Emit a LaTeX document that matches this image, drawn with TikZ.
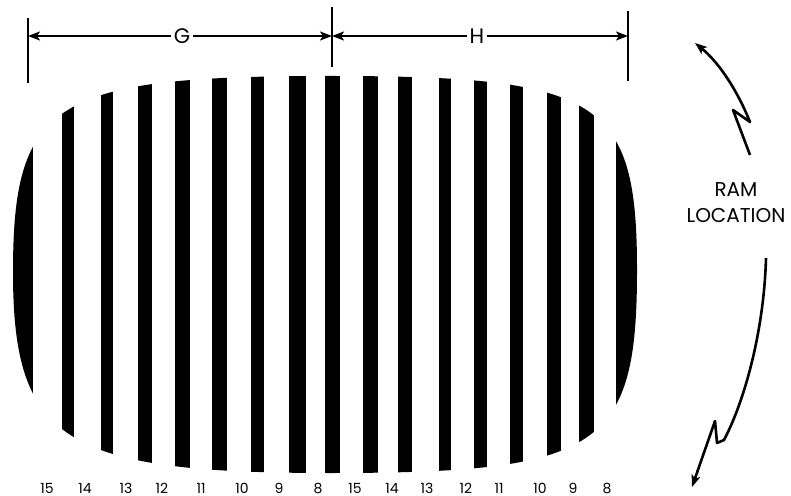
\documentclass[tikz,border=0pt]{standalone}
\usepackage{fontspec}
\setmainfont{Poppins}
\usetikzlibrary{arrows.meta}

\begin{document}
\begin{tikzpicture}[x=0.5pt,y=-0.5pt,
        tip/.style={-{Stealth[length=6pt,width=4.5pt,inset=1.5pt]}},
        dimline/.style={tip,line width=1pt},
        tickline/.style={line width=1pt},
        ramarrow/.style={tip,line width=1.3pt,line join=round},
        letter/.style={inner sep=1pt,font=\fontsize{10.5}{11}\selectfont},
        gap/.style={inner sep=0pt,font=\fontsize{7}{7}\selectfont}]
        \useasboundingbox (0,0) rectangle (791,496);

        \begin{scope}
            \clip (13,272) .. controls (13,101) and (54,76) .. (330,76)
                .. controls (600,76) and (637,99) .. (637,270)
                .. controls (637,449) and (600,473) .. (330,473)
                .. controls (64,473) and (13,441) .. cycle;
            \foreach \l/\r in {0/33, 62/74, 101/113, 138/152, 175/190, 212/227,
                    251/264, 289/306, 325/340, 363/378, 398/412, 439/451,
                    474/487, 510/523, 547/561, 579/594, 616/660}
                \fill (\l,60) rectangle (\r,490);
        \end{scope}

        \foreach \x/\n [count=\i] in {47/15, 85/14, 126/13, 162/12, 201/11, 242/10,
                279/9, 318/8, 355/15, 392/14, 427/13, 466/12, 499/11, 540/10,
                573/9, 607/8}
            \node[gap] (gap\i) at (\x,488) {\n};

        \coordinate (gL) at (28,36);
        \coordinate (gM) at (332,36);
        \coordinate (gR) at (628,36);
        \draw[tickline] (gL) ++(0,-18) -- ++(0,65);
        \draw[tickline] (gM) ++(0,-29) -- ++(0,60);
        \draw[tickline] (gR) ++(0,-25) -- ++(0,70);

        \node[letter] (G) at (182,36) {G};
        \node[letter] (H) at (477,36) {H};
        \draw[dimline] (G) -- (gL);
        \draw[dimline] (G) -- (gM);
        \draw[dimline] (H) -- (gM);
        \draw[dimline] (H) -- (gR);

        \node[align=center,inner sep=0pt,font=\fontsize{10}{13}\selectfont]
            (ram) at (736,203) {RAM\\LOCATION};

        \coordinate (upA) at (750,155);
        \coordinate (upB) at (695,43);
        \coordinate (dnA) at (766,258);
        \coordinate (dnB) at (692,487);
        \draw[ramarrow] (upA) -- (733,110) -- (750,122)
            .. controls (735,85) and (716,60) .. (upB);
        \draw[ramarrow] (dnA) .. controls (764,330) and (745,400) .. (724,440)
            -- (717,443) -- (715,421) -- (dnB);
\end{tikzpicture}
\end{document}
